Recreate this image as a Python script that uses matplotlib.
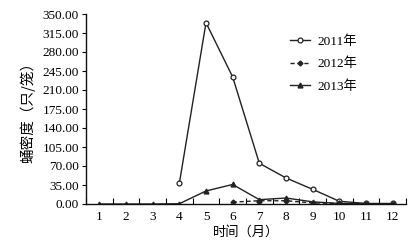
import matplotlib
matplotlib.use("Agg")
import matplotlib.pyplot as plt
from matplotlib.ticker import FixedLocator

months_2011 = [4, 5, 6, 7, 8, 9, 10, 11, 12]
vals_2011 = [38, 334, 234, 75, 48, 27, 5, 1, 1]
months_2012 = [6, 7, 8, 9, 10, 11, 12]
vals_2012 = [3.5, 6, 6, 2, 1, 0.5, 0.5]
months_2013 = [1, 2, 3, 4, 5, 6, 7, 8, 9, 10, 11, 12]
vals_2013 = [0, 0, 0, 0.5, 24, 36, 8, 11, 4, 1, 0.5, 0.5]
yticks = [0, 35, 70, 105, 140, 175, 210, 245, 280, 315, 350]
xticks = list(range(1, 13))
labels = ["2011年", "2012年", "2013年"]

serif = ["Liberation Serif", "Noto Sans CJK SC"]
cjk = ["Noto Sans CJK SC", "DejaVu Sans"]

fig = plt.figure(figsize=(4.17, 2.46), dpi=100)
ax = fig.add_axes([86/417, 1-204/246, (406-86)/417, (204-14)/246])

ax.plot(months_2011, vals_2011, color="#222222", lw=1.0, marker="o", ms=3.5,
        mfc="white", mec="#222222", mew=0.9, label=labels[0])
ax.plot(months_2012, vals_2012, color="#222222", lw=1.0, ls=(0, (3, 2)), marker="D", ms=2.5,
        mfc="#222222", mec="#222222", label=labels[1])
ax.plot(months_2013, vals_2013, color="#222222", lw=1.0, marker="^", ms=3.5,
        mfc="#222222", mec="#222222", label=labels[2])

ax.set_xlim(0.5, 12.5)
ax.set_ylim(0, 350)
ax.set_yticks(yticks)
ax.set_yticklabels([f"{v:.2f}" for v in yticks], family=serif, fontsize=9.5)
ax.set_xticks(xticks)
ax.set_xticklabels([str(m) for m in xticks], family=serif, fontsize=9.5)
ax.xaxis.set_minor_locator(FixedLocator([m + 0.5 for m in range(0, 13)]))
ax.tick_params(axis="x", which="major", length=0, pad=5)
ax.tick_params(axis="x", which="minor", direction="in", length=4, width=0.8)
ax.tick_params(axis="y", which="major", direction="out", length=3, width=0.8, pad=2)

for s in ["top", "right"]:
    ax.spines[s].set_visible(False)
for s in ["left", "bottom"]:
    ax.spines[s].set_linewidth(1.0)
    ax.spines[s].set_color("#111111")

ax.set_xlabel("时间（月）", family=cjk, fontsize=9.5, labelpad=2)
ax.set_ylabel("蛹密度（只/笼）", family=cjk, fontsize=10.5, labelpad=5)

leg = ax.legend(loc="upper left", bbox_to_anchor=(0.6, 0.95), frameon=False,
                prop={"family": serif, "size": 9.5}, handlelength=1.5,
                labelspacing=0.75, handletextpad=0.6)

fig.savefig("out.png", dpi=100)
